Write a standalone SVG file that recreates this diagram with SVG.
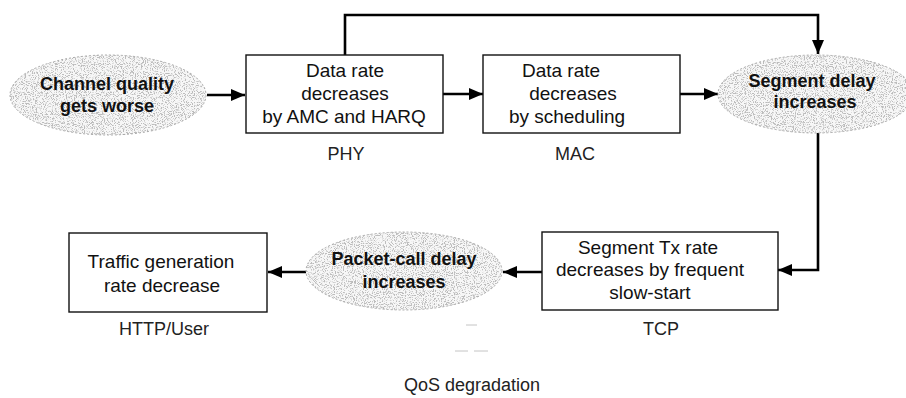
<svg xmlns="http://www.w3.org/2000/svg" width="906" height="398" viewBox="0 0 906 398">
  <style>
    .box { fill: #fff; stroke: #111; stroke-width: 1.4; }
    .oval-edge { fill: none; stroke: #a8a8a8; stroke-width: 1; stroke-dasharray: 2 2; }
    .oval-base { fill: #f7f7f7; }
    .wire { fill: none; stroke: #000; stroke-width: 2.6; }
    .faint { stroke: #c4c4c4; stroke-width: 1; }
    .t { font-family: "Liberation Sans", Arial, sans-serif; font-size: 19px; fill: #111; text-anchor: middle; }
    .tb { font-family: "Liberation Sans", Arial, sans-serif; font-size: 18px; font-weight: bold; fill: #111; text-anchor: middle; }
    .lbl { font-family: "Liberation Sans", Arial, sans-serif; font-size: 18px; fill: #222; text-anchor: middle; }
  </style>
  <defs>
    <marker id="arrow" viewBox="0 0 14 12" refX="14" refY="6" markerWidth="14" markerHeight="12" markerUnits="userSpaceOnUse" orient="auto">
      <path d="M0,0 L14,6 L0,12 z" fill="#000"/>
    </marker>
    <!-- speckled grey stipple for the state ovals -->
    <filter id="grain" x="0" y="0" width="100%" height="100%">
      <feTurbulence type="fractalNoise" baseFrequency="0.9" numOctaves="3" seed="11" result="noise"/>
      <feColorMatrix in="noise" type="matrix" values="0 0 0 0 0.5  0 0 0 0 0.5  0 0 0 0 0.5  6 0 0 0 -3.0" result="dots"/>
      <feComposite in="dots" in2="SourceGraphic" operator="in"/>
    </filter>
  </defs>

  <!-- connectors -->
  <g id="connectors">
    <line class="wire" x1="207" y1="95" x2="245" y2="95" marker-end="url(#arrow)"/>
    <line class="wire" x1="443" y1="94" x2="483" y2="94" marker-end="url(#arrow)"/>
    <polyline class="wire" points="345,55 345,15 818,15 818,54" marker-end="url(#arrow)"/>
    <line class="wire" x1="680" y1="94" x2="718" y2="94" marker-end="url(#arrow)"/>
    <polyline class="wire" points="818,132 818,270 778,270" marker-end="url(#arrow)"/>
    <line class="wire" x1="542" y1="272" x2="503" y2="272" marker-end="url(#arrow)"/>
    <line class="wire" x1="306" y1="272" x2="268" y2="272" marker-end="url(#arrow)"/>
  </g>

  <!-- channel quality oval -->
  <g id="channel-quality">
    <ellipse class="oval-base" cx="108" cy="95" rx="98" ry="40"/>
    <ellipse cx="108" cy="95" rx="98" ry="40" fill="#000" filter="url(#grain)"/>
    <ellipse class="oval-edge" cx="108" cy="95" rx="98" ry="40"/>
    <text class="tb" x="107" y="90">Channel quality</text>
    <text class="tb" x="107" y="112">gets worse</text>
  </g>

  <!-- PHY layer -->
  <g id="phy">
    <rect class="box" x="246" y="55" width="197" height="78"/>
    <text class="t" x="345" y="77">Data rate</text>
    <text class="t" x="345" y="100">decreases</text>
    <text class="t" x="344" y="123">by AMC and HARQ</text>
    <text class="lbl" x="346" y="160">PHY</text>
  </g>

  <!-- MAC layer -->
  <g id="mac">
    <rect class="box" x="483" y="55" width="197" height="78"/>
    <text class="t" x="561" y="77">Data rate</text>
    <text class="t" x="573" y="100">decreases</text>
    <text class="t" x="567" y="123">by scheduling</text>
    <text class="lbl" x="575" y="160">MAC</text>
  </g>

  <!-- segment delay oval -->
  <g id="segment-delay">
    <ellipse class="oval-base" cx="816" cy="94" rx="98" ry="39"/>
    <ellipse cx="816" cy="94" rx="98" ry="39" fill="#000" filter="url(#grain)"/>
    <ellipse class="oval-edge" cx="816" cy="94" rx="98" ry="39"/>
    <text class="tb" x="812" y="87">Segment delay</text>
    <text class="tb" x="815" y="108">increases</text>
  </g>

  <!-- TCP layer -->
  <g id="tcp">
    <rect class="box" x="542" y="232" width="236" height="78"/>
    <text class="t" x="648" y="254">Segment Tx rate</text>
    <text class="t" x="650" y="276">decreases by frequent</text>
    <text class="t" x="650" y="299">slow-start</text>
    <text class="lbl" x="661" y="335">TCP</text>
  </g>

  <!-- packet-call delay oval -->
  <g id="packet-call-delay">
    <ellipse class="oval-base" cx="404" cy="271" rx="98" ry="39"/>
    <ellipse cx="404" cy="271" rx="98" ry="39" fill="#000" filter="url(#grain)"/>
    <ellipse class="oval-edge" cx="404" cy="271" rx="98" ry="39"/>
    <text class="tb" x="404" y="265">Packet-call delay</text>
    <text class="tb" x="404" y="288">increases</text>
  </g>

  <!-- HTTP / user layer -->
  <g id="http-user">
    <rect class="box" x="69" y="233" width="198" height="79"/>
    <text class="t" x="161" y="268">Traffic generation</text>
    <text class="t" x="162" y="292">rate decrease</text>
    <text class="lbl" x="164" y="335">HTTP/User</text>
  </g>

  <!-- QoS outcome -->
  <g id="qos">
    <line class="faint" x1="466" y1="325" x2="477" y2="325"/>
    <line class="faint" x1="455" y1="351" x2="468" y2="351"/>
    <line class="faint" x1="474" y1="351" x2="488" y2="351"/>
    <text class="lbl" x="472" y="391">QoS degradation</text>
  </g>
</svg>
